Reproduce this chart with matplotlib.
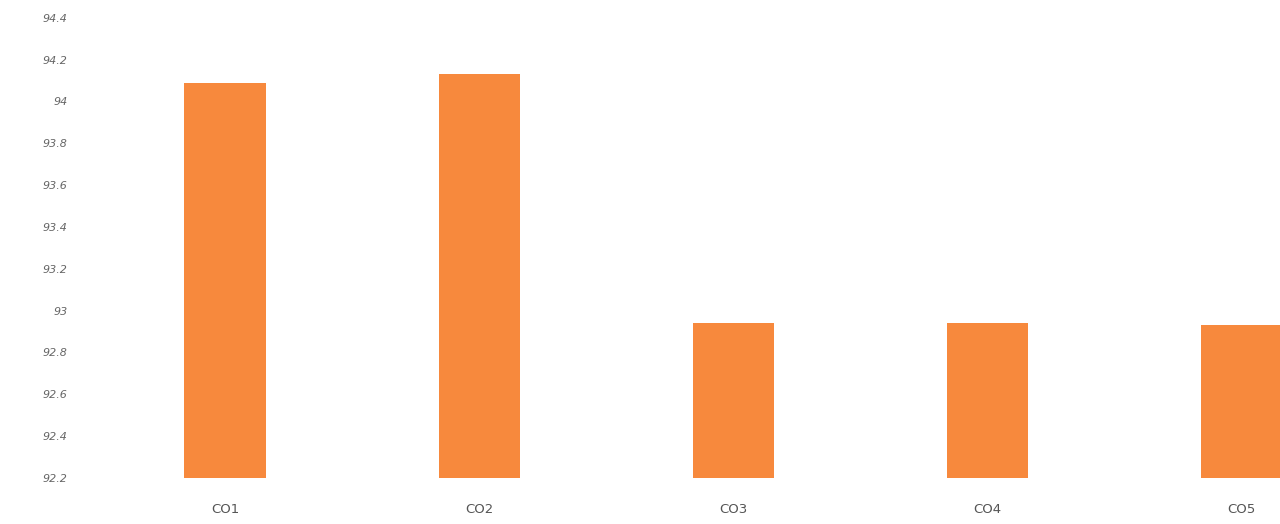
import matplotlib.pyplot as plt
import numpy as np

categories = ['CO1', 'CO2', 'CO3', 'CO4', 'CO5']
values = [94.09, 94.13, 92.94, 92.94, 92.93]
yticks = [92.2, 92.4, 92.6, 92.8, 93, 93.2, 93.4, 93.6, 93.8, 94, 94.2, 94.4]

fig = plt.figure(figsize=(12.8, 5.24), dpi=100)
ax = fig.add_axes([0.1016, 0.088, 0.8984, 0.878])

x = np.arange(len(categories))
ax.bar(x, values, width=0.32, color='#F7893D')

ax.set_ylim(92.2, 94.4)
ax.set_xlim(-0.374, 4.15)
ax.set_yticks(yticks)
ax.set_yticklabels([f'{t:g}' for t in yticks], fontsize=8, color='#666666', style='italic')
ax.set_xticks(x)
ax.set_xticklabels(categories, fontsize=9.5, color='#555555')

for s in ax.spines.values():
    s.set_visible(False)
ax.tick_params(length=0)
ax.tick_params(axis='y', pad=45)
ax.tick_params(axis='x', pad=18)

fig.savefig('out.png', dpi=100)
